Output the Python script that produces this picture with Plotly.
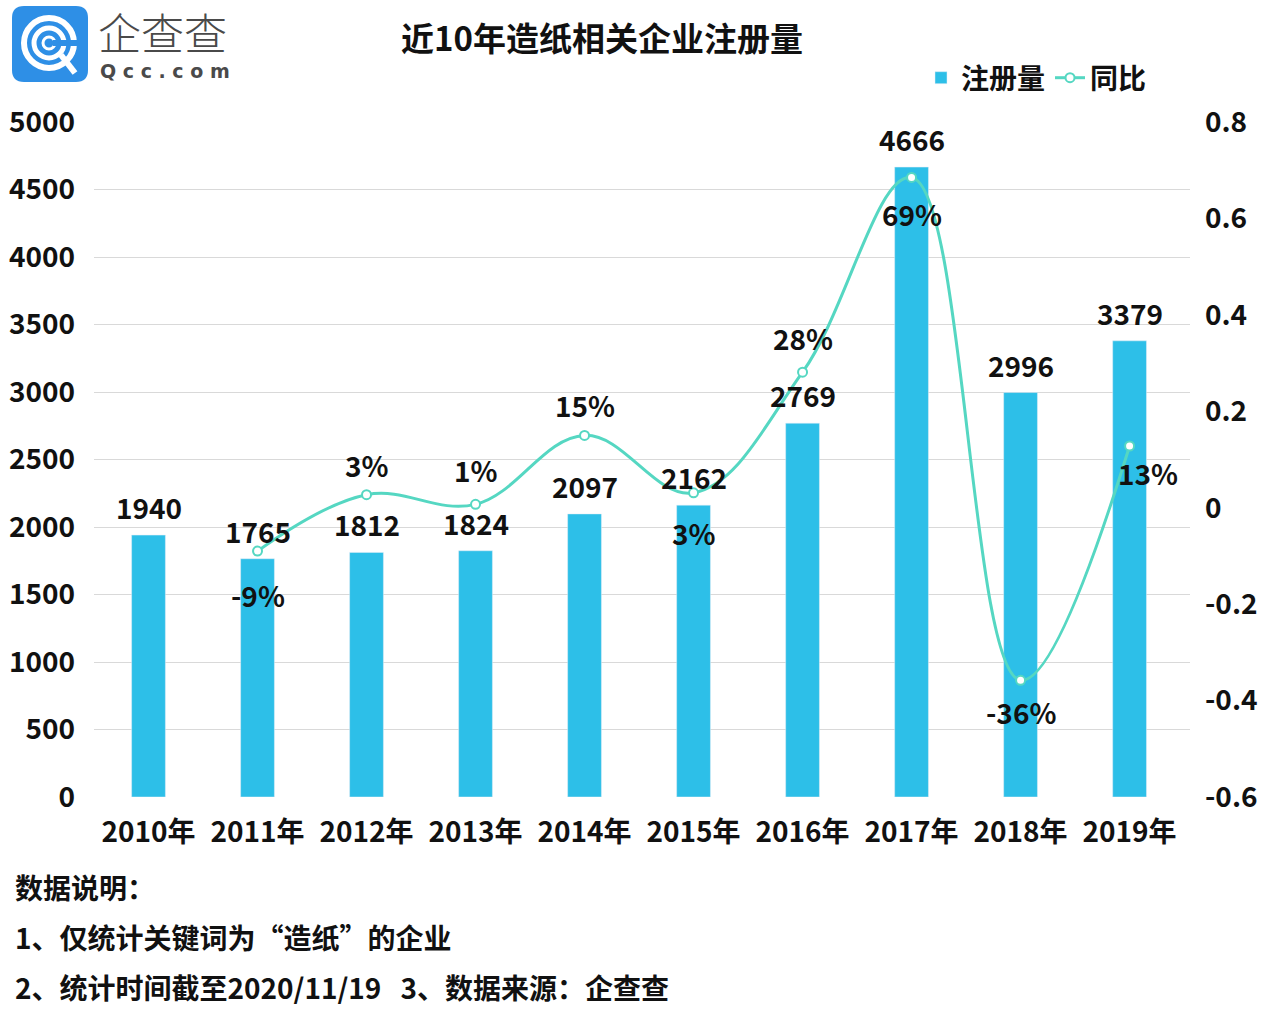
import plotly.graph_objects as go

years = ["2010年", "2011年", "2012年", "2013年", "2014年", "2015年", "2016年", "2017年", "2018年", "2019年"]
registrations = [1940, 1765, 1812, 1824, 2097, 2162, 2769, 4666, 2996, 3379]
yoy_years = years[1:]
yoy = [-0.09, 0.027, 0.007, 0.15, 0.031, 0.281, 0.685, -0.358, 0.128]
yoy_labels = ["-9%", "3%", "1%", "15%", "3%", "28%", "69%", "-36%", "13%"]
yoy_label_shift = [-44, 30, 34, 30, -40, 34, -37, -32, -27]
yoy_label_xshift = [0, 0, 0, 0, 0, 0, 0, 0, 18]
left_ticks = [0, 500, 1000, 1500, 2000, 2500, 3000, 3500, 4000, 4500, 5000]
right_ticks = [-0.6, -0.4, -0.2, 0, 0.2, 0.4, 0.6, 0.8]
right_tick_text = ["-0.6", "-0.4", "-0.2", "0", "0.2", "0.4", "0.6", "0.8"]

FONT = "Noto Sans CJK SC"
BAR_C = "#2DBFE8"
LINE_C = "#55D7C2"
W, H = 1268, 1015
L, R, T, B = 94, 1190, 122, 797

def px(x):
    return (x - L) / (R - L)

def py(y):
    return (B - y) / (B - T)

fig = go.Figure()
fig.add_trace(go.Bar(
    x=years, y=registrations, name="注册量", marker_color=BAR_C, width=0.31,
    yaxis="y",
))
fig.add_trace(go.Scatter(
    x=yoy_years, y=yoy, name="同比", mode="lines+markers", yaxis="y2",
    line=dict(color=LINE_C, width=3, shape="spline", smoothing=1.1),
    marker=dict(symbol="circle", size=9, color="white", line=dict(color=LINE_C, width=2)),
))

LBL = dict(family=FONT, size=28, color="#111", weight=700)
ann = []
for yr, v in zip(years, registrations):
    ann.append(dict(x=yr, y=v, xref="x", yref="y", text=str(v), showarrow=False,
                    xanchor="center", yanchor="middle", yshift=28, font=LBL))
for yr, v, t, s, xs in zip(yoy_years, yoy, yoy_labels, yoy_label_shift, yoy_label_xshift):
    ann.append(dict(x=yr, y=v, xref="x", yref="y2", text=t, showarrow=False,
                    xanchor="center", yanchor="middle", yshift=s, xshift=xs, font=LBL))

# title
ann.append(dict(x=px(602), y=py(37), xref="paper", yref="paper", text="近10年造纸相关企业注册量",
                xanchor="center", yanchor="middle", showarrow=False,
                font=dict(family=FONT, size=33, color="#111", weight=700)))
# footer
footer = ["数据说明：", "1、仅统计关键词为“造纸”的企业", "2、统计时间截至2020/11/19   3、数据来源：企查查"]
for i, t in enumerate(footer):
    ann.append(dict(x=px(13), y=py(887 + 50 * i), xref="paper", yref="paper", text=t,
                    xanchor="left", yanchor="middle", showarrow=False,
                    font=dict(family=FONT, size=28, color="#111", weight=700)))
# logo text
ann.append(dict(x=px(96), y=py(31), xref="paper", yref="paper", text="企查查",
                xanchor="left", yanchor="middle",
                showarrow=False, font=dict(family=FONT, size=43, color="#4a4a4a", weight=300)))
ann.append(dict(x=px(98), y=py(71), xref="paper", yref="paper", text="Q c c . c o m",
                xanchor="left", yanchor="middle",
                showarrow=False, font=dict(family="DejaVu Sans", size=19, color="#4a4a4a", weight=700)))

shapes = []
# logo rounded square
x0, y0, x1, y1, r = 12, 6, 88, 82, 12
path = (f"M {px(x0 + r)} {py(y0)} L {px(x1 - r)} {py(y0)} Q {px(x1)} {py(y0)} {px(x1)} {py(y0 + r)} "
        f"L {px(x1)} {py(y1 - r)} Q {px(x1)} {py(y1)} {px(x1 - r)} {py(y1)} "
        f"L {px(x0 + r)} {py(y1)} Q {px(x0)} {py(y1)} {px(x0)} {py(y1 - r)} "
        f"L {px(x0)} {py(y0 + r)} Q {px(x0)} {py(y0)} {px(x0 + r)} {py(y0)} Z")
shapes.append(dict(type="path", path=path, xref="paper", yref="paper", fillcolor="#2E8FE6",
                   line=dict(width=0), layer="above"))
cx, cy = 49, 43
for rad, w in [(25, 6), (15, 5)]:
    shapes.append(dict(type="circle", xref="paper", yref="paper",
                       x0=px(cx - rad), x1=px(cx + rad), y0=py(cy + rad), y1=py(cy - rad),
                       line=dict(color="white", width=w), fillcolor="rgba(0,0,0,0)", layer="above"))
shapes.append(dict(type="circle", xref="paper", yref="paper",
                   x0=px(cx - 6), x1=px(cx + 6), y0=py(cy + 6), y1=py(cy - 6),
                   line=dict(color="white", width=3), fillcolor="rgba(0,0,0,0)", layer="above"))
shapes.append(dict(type="rect", xref="paper", yref="paper", x0=px(cx + 4), x1=px(cx + 28),
                   y0=py(cy + 3), y1=py(cy - 3), fillcolor="#2E8FE6", line=dict(width=0), layer="above"))
shapes.append(dict(type="line", xref="paper", yref="paper", x0=px(cx + 12), y0=py(cy + 12),
                   x1=px(cx + 26), y1=py(cy + 30), line=dict(color="white", width=6), layer="above"))

TICKF = dict(family=FONT, size=28, color="#111", weight=700)
fig.update_layout(
    width=W, height=H,
    margin=dict(l=L, r=W - R, t=T, b=H - B, autoexpand=False),
    paper_bgcolor="white", plot_bgcolor="white",
    font=dict(family=FONT, size=28, color="#111", weight=700),
    bargap=0.68,
    showlegend=True,
    legend=dict(orientation="h", x=px(921), y=py(78), xanchor="left", yanchor="middle",
                font=dict(family=FONT, size=28, color="#111", weight=700),
                bgcolor="rgba(0,0,0,0)", itemwidth=30, tracegroupgap=0),
    xaxis=dict(type="category", showgrid=False, showline=False, ticks="",
               tickfont=TICKF, ticklabelstandoff=16),
    yaxis=dict(range=[0, 5000], tickvals=left_ticks, showgrid=True, gridcolor="#d9d9d9", gridwidth=1,
               zeroline=False, showline=False, ticks="",
               tickfont=TICKF, ticklabelstandoff=18),
    yaxis2=dict(range=[-0.6, 0.8], overlaying="y", side="right", tickvals=right_ticks,
                ticktext=right_tick_text, showgrid=False, zeroline=False, showline=False, ticks="",
                tickfont=TICKF, ticklabelstandoff=14),
    annotations=ann,
    shapes=shapes,
)
fig.write_html("out.html", config={"displayModeBar": False},
               post_script="document.body.style.margin='0';document.body.style.overflow='hidden';")
